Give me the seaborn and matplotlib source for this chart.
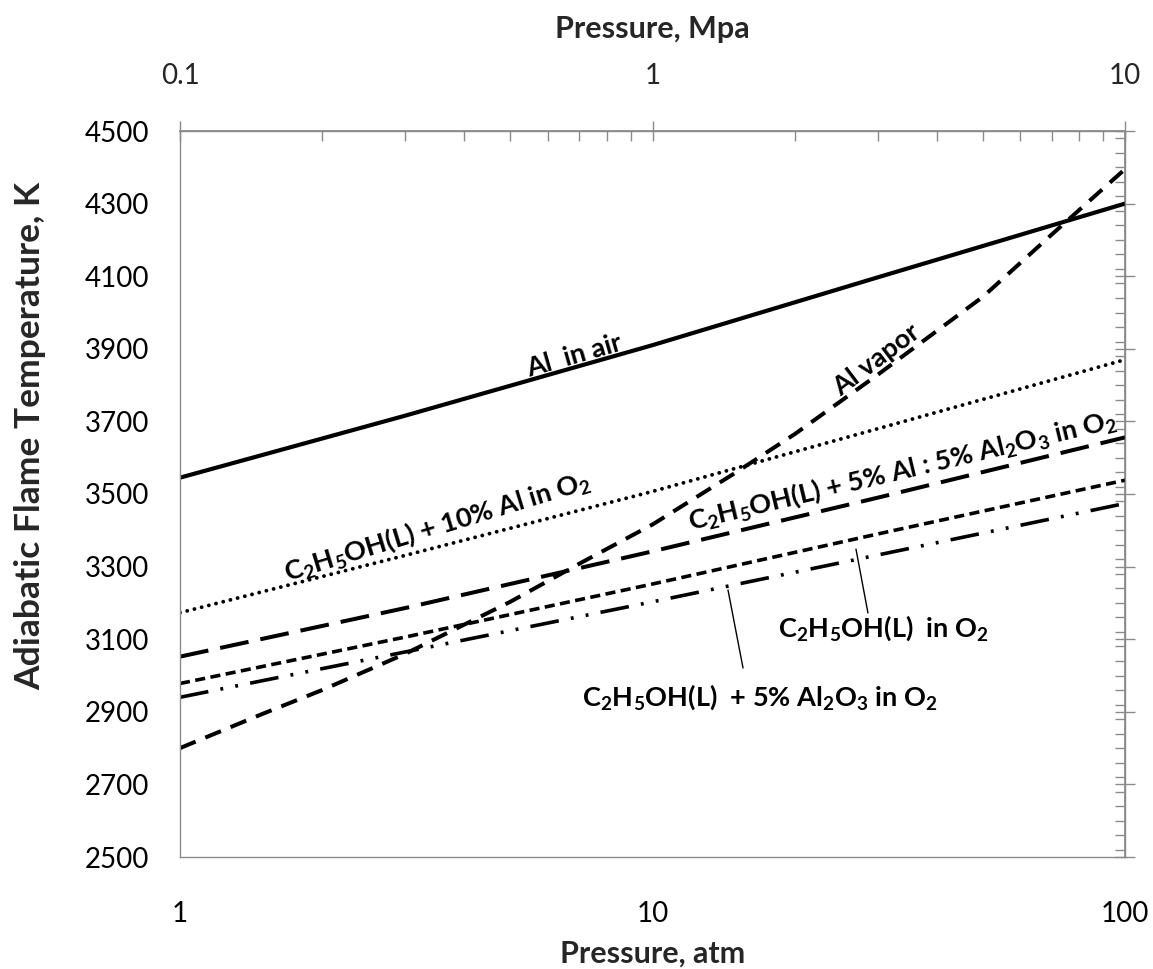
import matplotlib
matplotlib.use("Agg")
import matplotlib.pyplot as plt
import seaborn as sns
from matplotlib.ticker import FixedLocator, FixedFormatter, LogLocator, NullFormatter, MultipleLocator

# ---- data ----
pressure_atm = [1, 3, 10, 30, 100]
t_al_air = [3545, 3716, 3910, 4097, 4300]
t_10al = [3173, 3331, 3507, 3680, 3870]
t_5al_5al2o3 = [3052, 3186, 3342, 3490, 3656]
t_ethanol = [2978, 3106, 3252, 3390, 3538]
t_5al2o3 = [2940, 3065, 3203, 3332, 3474]

pressure_vapor = [1, 1.5, 2, 3, 5, 7, 10, 15, 20, 30, 50, 70, 100]
t_al_vapor = [2800, 2895, 2960, 3060, 3203, 3308, 3416, 3559, 3665, 3829, 4043, 4215, 4395]

x_major = [1, 10, 100]
x_major_labels = ["1", "10", "100"]
top_major = [0.1, 1, 10]
top_major_labels = ["0.1", "1", "10"]
y_ticks = list(range(2500, 4501, 200))

sns.set_theme(style="white")
plt.rcParams["font.family"] = ["Lato", "DejaVu Sans"]
plt.rcParams["mathtext.fontset"] = "custom"
plt.rcParams["mathtext.rm"] = "Lato:bold"
plt.rcParams["mathtext.it"] = "Lato:bold"
plt.rcParams["mathtext.bf"] = "Lato:bold"
plt.rcParams["mathtext.default"] = "rm"

GRAY = "#8a8a8a"
TICK_FS = 20

fig = plt.figure(figsize=(11.53, 9.69), dpi=100)
ax = fig.add_axes([180 / 1153, 1 - 857 / 969, 945 / 1153, 726 / 969])

sns.lineplot(x=pressure_atm, y=t_al_air, ax=ax, color="black", lw=3.0,
             solid_capstyle="butt")
sns.lineplot(x=pressure_vapor, y=t_al_vapor, ax=ax, color="black", lw=2.9,
             linestyle=(0, (4.2, 2.6)))
sns.lineplot(x=pressure_atm, y=t_10al, ax=ax, color="black", lw=2.8,
             linestyle=(0, (0.01, 1.9)), dash_capstyle="round")
sns.lineplot(x=pressure_atm, y=t_5al_5al2o3, ax=ax, color="black", lw=2.9,
             linestyle=(0, (7.2, 3.0)))
sns.lineplot(x=pressure_atm, y=t_ethanol, ax=ax, color="black", lw=2.6,
             linestyle=(0, (2.8, 1.5)))
sns.lineplot(x=pressure_atm, y=t_5al2o3, ax=ax, color="black", lw=2.6,
             linestyle=(0, (8, 3.4, 0.8, 3.4, 0.8, 3.4)))

ax.set_xscale("log")
ax.set_xlim(1, 100)
ax.set_ylim(2500, 4500)

for s in ax.spines.values():
    s.set_color(GRAY)
    s.set_linewidth(1.0)
    s.set_visible(True)

ax.xaxis.set_major_locator(FixedLocator(x_major))
ax.xaxis.set_major_formatter(FixedFormatter(x_major_labels))
ax.xaxis.set_minor_locator(LogLocator(base=10, subs=range(2, 10)))
ax.xaxis.set_minor_formatter(NullFormatter())
ax.yaxis.set_major_locator(FixedLocator(y_ticks))
ax.yaxis.set_minor_locator(MultipleLocator(100))

ax.tick_params(axis="both", which="major", direction="inout", length=14, width=1,
               color=GRAY, labelsize=TICK_FS, labelcolor="black")
ax.tick_params(axis="both", which="minor", direction="in", length=7, width=1, color=GRAY)
ax.tick_params(axis="x", which="major", pad=25)
ax.tick_params(axis="y", which="major", pad=15)

# top axis in MPa
sec = ax.secondary_xaxis("top", functions=(lambda p: p / 10.0, lambda m: m * 10.0))
sec.set_xticks(top_major)
sec.set_xticklabels(top_major_labels)
sec.xaxis.set_minor_locator(LogLocator(base=10, subs=range(2, 10)))
sec.xaxis.set_minor_formatter(NullFormatter())
sec.tick_params(which="major", direction="inout", length=14, width=1, color=GRAY,
                labelsize=TICK_FS, pad=23)
sec.tick_params(which="minor", direction="in", length=7, width=1, color=GRAY)
sec.spines["top"].set_color(GRAY)
sec.set_xlabel("Pressure, Mpa", fontsize=22, fontweight="bold", labelpad=18)

# right axis ticks
secy = ax.secondary_yaxis("right", functions=(lambda t: t, lambda t: t))
secy.set_yticks(y_ticks)
secy.yaxis.set_minor_locator(MultipleLocator(40))
secy.tick_params(which="major", direction="inout", length=14, width=1, color=GRAY,
                 labelright=False)
secy.tick_params(which="minor", direction="in", length=7, width=1, color=GRAY)
secy.spines["right"].set_color(GRAY)

ax.set_xlabel("Pressure, atm", fontsize=22, fontweight="bold", labelpad=9)
ax.set_ylabel("Adiabatic Flame Temperature, K", fontsize=25.5, fontweight="bold")
ax.yaxis.set_label_coords(-0.142, 0.58)

tk = dict(transform=ax.transAxes, ha="center", va="center", rotation_mode="anchor",
          fontsize=19.5, fontweight="bold", color="black")
ax.text(0.417, 0.690, "Al  in air", rotation=16, **tk)
ax.text(0.7365, 0.6846, "Al vapor", rotation=37, **tk)
ax.text(0.272, 0.455, r"C$_2$H$_5$OH(L) + 10% Al in O$_2$", rotation=17, **tk)
ax.text(0.764, 0.533, r"C$_2$H$_5$OH(L) + 5% Al : 5% Al$_2$O$_3$ in O$_2$", rotation=13.5, **tk)
ax.text(0.744, 0.315, r"C$_2$H$_5$OH(L)  in O$_2$", rotation=0, **tk)
ax.text(0.614, 0.220, r"C$_2$H$_5$OH(L)  + 5% Al$_2$O$_3$ in O$_2$", rotation=0, **tk)

ax.annotate("", xy=(0.7153, 0.4242), xytext=(0.7280, 0.3361), xycoords="axes fraction",
            textcoords="axes fraction", arrowprops=dict(arrowstyle="-", lw=1, color="black",
                                                        shrinkA=0, shrinkB=0))
ax.annotate("", xy=(0.5799, 0.3678), xytext=(0.5958, 0.2603), xycoords="axes fraction",
            textcoords="axes fraction", arrowprops=dict(arrowstyle="-", lw=1, color="black",
                                                        shrinkA=0, shrinkB=0))

fig.savefig("out.png", dpi=100)
